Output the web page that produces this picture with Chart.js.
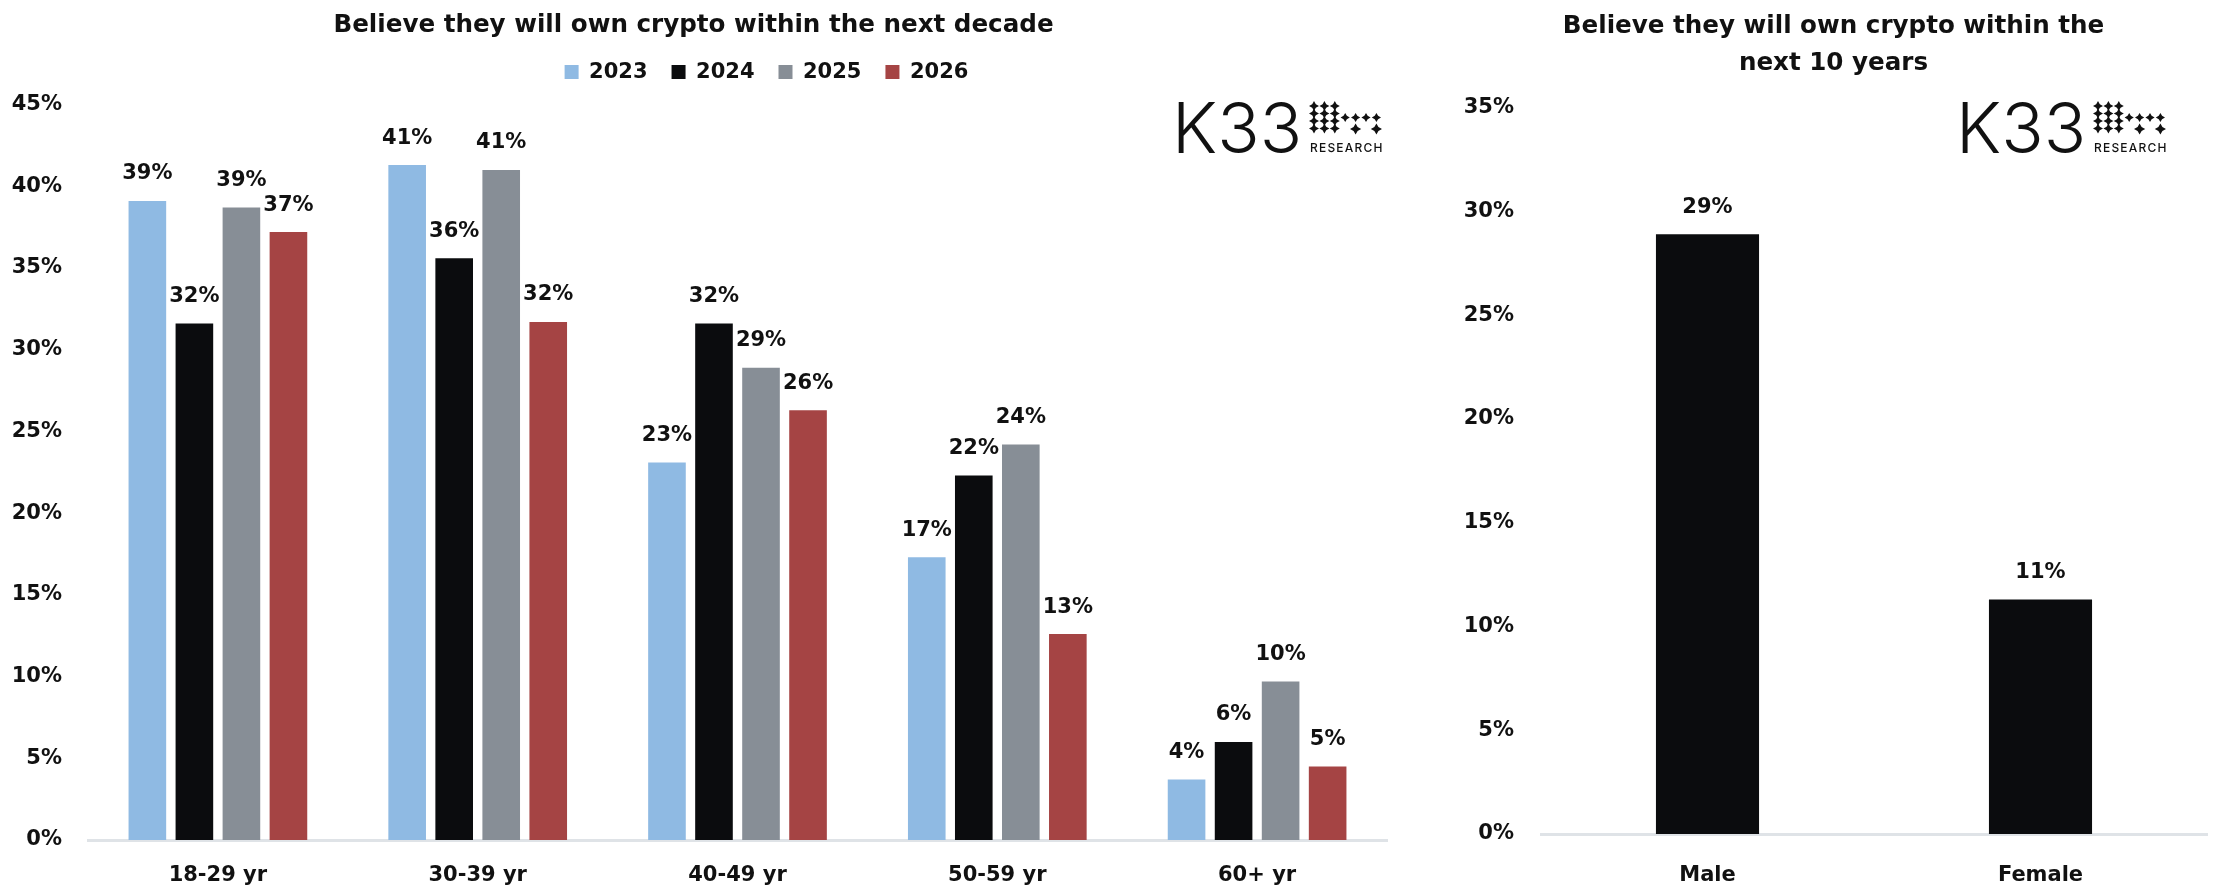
<!DOCTYPE html>
<html lang="en">
<head>
    <meta charset="UTF-8">
    <title>Believe they will own crypto</title>
    <script src="https://cdn.jsdelivr.net/npm/chart.js"></script>
    <style>
        body {
            margin: 0;
            background-color: #ffffff;
            width: 2219px;
            height: 891px;
            overflow: hidden;
            position: relative;
        }

        .chart-box {
            position: absolute;
            top: 0;
            height: 891px;
        }

        #leftBox { left: 0; width: 1404px; }
        #rightBox { left: 1460px; width: 759px; }
    </style>
</head>
<body>
    <div class="chart-box" id="leftBox"><canvas id="ageChart"></canvas></div>
    <div class="chart-box" id="rightBox"><canvas id="genderChart"></canvas></div>

    <script>
        // age groups, share believing they will own crypto within the next decade (%)
        const ageGroups = ['18-29 yr', '30-39 yr', '40-49 yr', '50-59 yr', '60+ yr'];
        const years = ['2023', '2024', '2025', '2026'];
        const share2023 = [39.1, 41.3, 23.1, 17.3, 3.7];
        const share2024 = [31.6, 35.6, 31.6, 22.3, 6.0];
        const share2025 = [38.7, 41.0, 28.9, 24.2, 9.7];
        const share2026 = [37.2, 31.7, 26.3, 12.6, 4.5];
        const yearColors = ['#8fbae3', '#0b0c0e', '#878e96', '#a54444'];
        const ageTicks = [0, 5, 10, 15, 20, 25, 30, 35, 40, 45];

        // gender split, next 10 years (%)
        const genders = ['Male', 'Female'];
        const genderShare = [28.9, 11.3];
        const genderTicks = [0, 5, 10, 15, 20, 25, 30, 35];

        const FONT = '"DejaVu Sans", sans-serif';
        const INK = '#111111';

        // percentage label on top of every bar
        const barLabels = {
            id: 'barLabels',
            afterDatasetsDraw(chart) {
                const ctx = chart.ctx;
                ctx.save();
                ctx.font = 'bold 21px ' + FONT;
                ctx.fillStyle = INK;
                ctx.textAlign = 'center';
                ctx.textBaseline = 'middle';
                chart.data.datasets.forEach((ds, i) => {
                    chart.getDatasetMeta(i).data.forEach((bar, j) => {
                        ctx.fillText(Math.round(ds.data[j]) + '%', bar.x, bar.y - 27);
                    });
                });
                ctx.restore();
            }
        };

        // K33 research logo, top right of each chart
        function star(ctx, cx, cy, r) {
            const k = r * 0.36;
            ctx.beginPath();
            ctx.moveTo(cx, cy - r);
            ctx.lineTo(cx + k, cy - k);
            ctx.lineTo(cx + r, cy);
            ctx.lineTo(cx + k, cy + k);
            ctx.lineTo(cx, cy + r);
            ctx.lineTo(cx - k, cy + k);
            ctx.lineTo(cx - r, cy);
            ctx.lineTo(cx - k, cy - k);
            ctx.closePath();
            ctx.fill();
        }

        const k33Logo = {
            id: 'k33Logo',
            afterDraw(chart, args, opts) {
                const ctx = chart.ctx;
                const x = opts.x;
                const base = 153;
                ctx.save();
                ctx.fillStyle = '#111111';
                ctx.font = '300 70px Inter, sans-serif';
                ctx.textBaseline = 'alphabetic';
                ctx.textAlign = 'left';
                ctx.fillText('K33', x, base);

                const gx = x + 142;
                const dx = 10.4;
                const rows = [106, 113.5, 121, 128.5];
                rows.forEach(y => {
                    for (let c = 0; c < 3; c++) star(ctx, gx + c * dx, y, 5);
                });
                for (let c = 3; c < 7; c++) star(ctx, gx + c * dx, 117.5, 4.6);
                star(ctx, gx + 4 * dx, 129, 5.6);
                star(ctx, gx + 6 * dx, 129, 5.6);

                ctx.font = '500 12px Inter, sans-serif';
                ctx.letterSpacing = '1.2px';
                ctx.textBaseline = 'middle';
                ctx.fillText('RESEARCH', gx - 4, 148);
                ctx.restore();
            }
        };

        // extra space under the legend, and nudge it right like the original
        const legendGap = {
            id: 'legendGap',
            beforeUpdate(chart) {
                const legend = chart.legend;
                if (legend && !legend._gapPatched) {
                    const fit = legend.fit;
                    legend.fit = function () {
                        fit.call(this);
                        this.height += 12;
                    };
                    legend._gapPatched = true;
                }
            },
            afterLayout(chart) {
                if (chart.legend) {
                    chart.legend.left += 29;
                    chart.legend.right += 29;
                }
            }
        };

        const tickFont = { family: FONT, size: 21, weight: 'bold' };
        const titleFont = { family: FONT, size: 24.6, weight: 'bold', lineHeight: 1.0 };

        const ageDatasets = [share2023, share2024, share2025, share2026].map((vals, i) => ({
            label: years[i],
            data: vals,
            backgroundColor: yearColors[i],
            borderWidth: 0,
            categoryPercentage: 0.724,
            barPercentage: 0.8,
        }));

        new Chart(document.getElementById('ageChart').getContext('2d'), {
            type: 'bar',
            data: { labels: ageGroups, datasets: ageDatasets },
            options: {
                responsive: true,
                maintainAspectRatio: false,
                animation: false,
                layout: { padding: { top: 0, right: 17, bottom: 4, left: 0 } },
                plugins: {
                    title: {
                        display: true,
                        text: 'Believe they will own crypto within the next decade',
                        font: titleFont,
                        color: INK,
                        padding: { top: 13, bottom: 0 },
                    },
                    legend: {
                        display: true,
                        fullSize: false,
                        labels: {
                            boxWidth: 14,
                            boxHeight: 14,
                            padding: 24,
                            color: INK,
                            font: tickFont,
                        },
                    },
                    tooltip: { enabled: false },
                    k33Logo: { x: 1172 },
                },
                scales: {
                    x: {
                        grid: { display: false, drawTicks: false },
                        border: { display: true, color: '#dfe3e7', width: 3 },
                        ticks: { color: INK, font: tickFont, padding: 23 },
                        afterFit: scale => { scale.height = 47; },
                    },
                    y: {
                        min: 0,
                        max: 45,
                        grid: { display: false, drawTicks: false },
                        border: { display: false },
                        afterBuildTicks: scale => { scale.ticks = ageTicks.map(v => ({ value: v })); },
                        ticks: { color: INK, font: tickFont, padding: 26, callback: v => v + '%' },
                        afterFit: scale => { scale.width = 88; },
                    },
                },
            },
            plugins: [barLabels, k33Logo, legendGap],
        });

        new Chart(document.getElementById('genderChart').getContext('2d'), {
            type: 'bar',
            data: {
                labels: genders,
                datasets: [{
                    label: 'Share',
                    data: genderShare,
                    backgroundColor: '#0b0c0e',
                    borderWidth: 0,
                    categoryPercentage: 0.8,
                    barPercentage: 0.387,
                }],
            },
            options: {
                responsive: true,
                maintainAspectRatio: false,
                animation: false,
                layout: { padding: { top: 0, right: 12, bottom: 4, left: 0 } },
                plugins: {
                    title: {
                        display: true,
                        text: ['Believe they will own crypto within the', 'next 10 years'],
                        font: { family: FONT, size: 24.6, weight: 'bold', lineHeight: 1.5 },
                        color: INK,
                        padding: { top: 8, bottom: 26 },
                    },
                    legend: { display: false },
                    tooltip: { enabled: false },
                    k33Logo: { x: 496 },
                },
                scales: {
                    x: {
                        grid: { display: false, drawTicks: false },
                        border: { display: true, color: '#dfe3e7', width: 3 },
                        ticks: { color: INK, font: tickFont, padding: 29 },
                        afterFit: scale => { scale.height = 53; },
                    },
                    y: {
                        min: 0,
                        max: 35,
                        grid: { display: false, drawTicks: false },
                        border: { display: false },
                        afterBuildTicks: scale => { scale.ticks = genderTicks.map(v => ({ value: v })); },
                        ticks: { color: INK, font: tickFont, padding: 27, callback: v => v + '%' },
                        afterFit: scale => { scale.width = 81; },
                    },
                },
            },
            plugins: [barLabels, k33Logo],
        });
    </script>
</body>
</html>
